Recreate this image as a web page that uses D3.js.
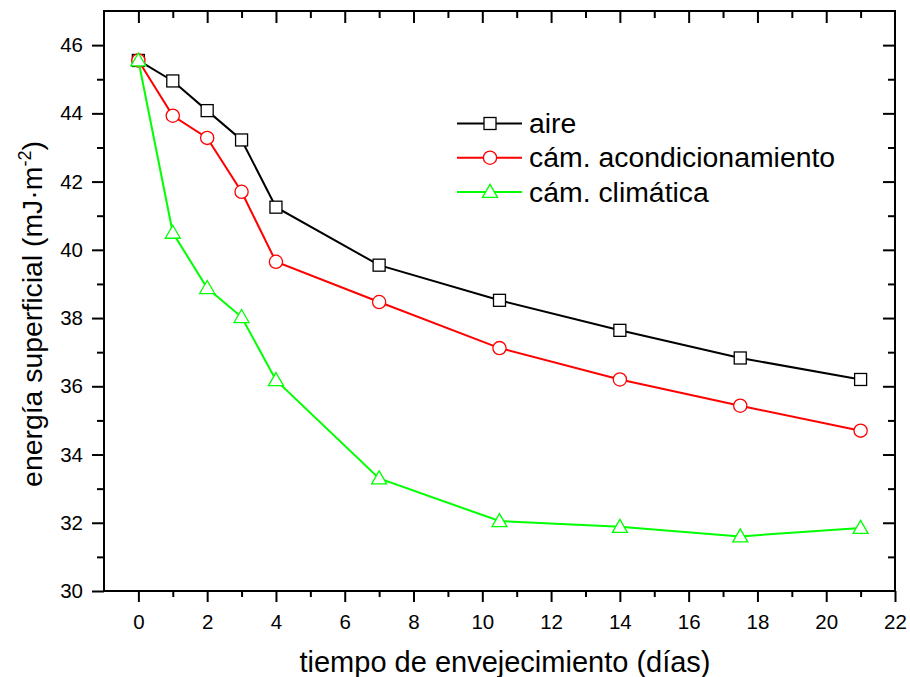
<!DOCTYPE html>
<html>
<head>
<meta charset="utf-8">
<script src="https://cdn.jsdelivr.net/npm/d3@7"></script>
<style>
  body { margin: 0; background: #fff; }
  svg text { font-family: "Liberation Sans", Arial, sans-serif; fill: #000; }
</style>
</head>
<body>
<div id="chart"></div>
<script>
// data
var days = [0, 1, 2, 3, 4, 7, 10.5, 14, 17.5, 21];
var aire = [45.55, 44.95, 44.08, 43.22, 41.25, 39.55, 38.52, 37.64, 36.83, 36.2];
var camAcond = [45.55, 43.93, 43.28, 41.7, 39.65, 38.47, 37.12, 36.2, 35.43, 34.7];
var camClim = [45.55, 40.5, 38.88, 38.03, 36.18, 33.3, 32.05, 31.88, 31.6, 31.85];
var seriesNames = ["aire", "cám. acondicionamiento", "cám. climática"];
var xTicks = [0, 2, 4, 6, 8, 10, 12, 14, 16, 18, 20, 22];
var yTicks = [30, 32, 34, 36, 38, 40, 42, 44, 46];

var W = 910, H = 677;
var svg = d3.select("#chart").append("svg")
    .attr("width", W)
    .attr("height", H);

var mLeft = 104, mRight = 895, mTop = 11, mBottom = 591;

var x = d3.scaleLinear().domain([-1, 22]).range([mLeft, mRight]);
var y = d3.scaleLinear().domain([30, 47]).range([mBottom, mTop]);

var series = [
  {name: seriesNames[0], values: aire, color: "#000000", sym: "square"},
  {name: seriesNames[1], values: camAcond, color: "#ff0000", sym: "circle"},
  {name: seriesNames[2], values: camClim, color: "#00ff00", sym: "triangle"}
];

// axes (ticks outward on left/bottom, inward on top/right)
var xMinor = d3.range(1, 22, 2);
var yMinor = d3.range(31, 47, 2);

function axisStyle(g) {
  g.select(".domain").remove();
  g.selectAll("line").attr("stroke", "#000").attr("stroke-width", 2);
  g.selectAll("text").attr("font-size", 20.5);
}

svg.append("g").attr("transform", "translate(0," + mBottom + ")")
  .call(d3.axisBottom(x).tickValues(xTicks).tickSize(11).tickPadding(12).tickFormat(d3.format("d")))
  .call(axisStyle);
svg.append("g").attr("transform", "translate(0," + mBottom + ")")
  .call(d3.axisBottom(x).tickValues(xMinor).tickSize(6).tickFormat(""))
  .call(axisStyle);
svg.append("g").attr("transform", "translate(" + mLeft + ",0)")
  .call(d3.axisLeft(y).tickValues(yTicks).tickSize(12).tickPadding(9).tickFormat(d3.format("d")))
  .call(axisStyle);
svg.append("g").attr("transform", "translate(" + mLeft + ",0)")
  .call(d3.axisLeft(y).tickValues(yMinor).tickSize(7).tickFormat(""))
  .call(axisStyle);
// top and right, ticks pointing inward
svg.append("g").attr("transform", "translate(0," + mTop + ")")
  .call(d3.axisBottom(x).tickValues(xTicks.filter(function(d){return d < 22;})).tickSize(12).tickFormat(""))
  .call(axisStyle);
svg.append("g").attr("transform", "translate(0," + mTop + ")")
  .call(d3.axisBottom(x).tickValues(xMinor).tickSize(7).tickFormat(""))
  .call(axisStyle);
svg.append("g").attr("transform", "translate(" + mRight + ",0)")
  .call(d3.axisLeft(y).tickValues(yTicks.filter(function(d){return d > 30;})).tickSize(12).tickFormat(""))
  .call(axisStyle);
svg.append("g").attr("transform", "translate(" + mRight + ",0)")
  .call(d3.axisLeft(y).tickValues(yMinor).tickSize(7).tickFormat(""))
  .call(axisStyle);

// frame
svg.append("rect")
  .attr("x", mLeft).attr("y", mTop)
  .attr("width", mRight - mLeft).attr("height", mBottom - mTop)
  .attr("fill", "none").attr("stroke", "#000").attr("stroke-width", 2);

var line = d3.line()
  .x(function(d){ return x(d[0]); })
  .y(function(d){ return y(d[1]); });

function drawMarker(g, sym, color, cx, cy) {
  if (sym === "square") {
    g.append("rect").attr("x", cx - 6).attr("y", cy - 6).attr("width", 12).attr("height", 12)
      .attr("fill", "#fff").attr("stroke", color).attr("stroke-width", 1.3);
  } else if (sym === "circle") {
    g.append("circle").attr("cx", cx).attr("cy", cy).attr("r", 6.6)
      .attr("fill", "#fff").attr("stroke", color).attr("stroke-width", 1.3);
  } else {
    g.append("path")
      .attr("d", "M" + cx + "," + (cy - 7.5) + "L" + (cx + 7.5) + "," + (cy + 5.5) + "L" + (cx - 7.5) + "," + (cy + 5.5) + "Z")
      .attr("fill", "#fff").attr("stroke", color).attr("stroke-width", 1.3);
  }
}

series.forEach(function(s) {
  var pts = days.map(function(d, i){ return [d, s.values[i]]; });
  var g = svg.append("g");
  g.append("path").datum(pts)
    .attr("d", line)
    .attr("fill", "none")
    .attr("stroke", s.color)
    .attr("stroke-width", 2);
  pts.forEach(function(p) {
    drawMarker(g, s.sym, s.color, x(p[0]), y(p[1]));
  });
});

// legend
var leg = svg.append("g");
series.forEach(function(s, i) {
  var ly = 123.5 + i * 34.2;
  leg.append("line").attr("x1", 457).attr("x2", 522).attr("y1", ly).attr("y2", ly)
    .attr("stroke", s.color).attr("stroke-width", 2);
  drawMarker(leg, s.sym, s.color, 490, ly);
  leg.append("text").attr("x", 529).attr("y", ly + 9.7).attr("font-size", 28.4).text(s.name);
});

// axis titles
svg.append("text")
  .attr("x", 505).attr("y", 671.5)
  .attr("text-anchor", "middle").attr("font-size", 29)
  .text("tiempo de envejecimiento (días)");

var yl = svg.append("text")
  .attr("transform", "translate(42,314) rotate(-90)")
  .attr("text-anchor", "middle").attr("font-size", 28.4);
yl.append("tspan").text("energía superficial (mJ·m");
yl.append("tspan").attr("dy", -11).attr("font-size", 18).text("-2");
yl.append("tspan").attr("dy", 11).text(")");
</script>
</body>
</html>
